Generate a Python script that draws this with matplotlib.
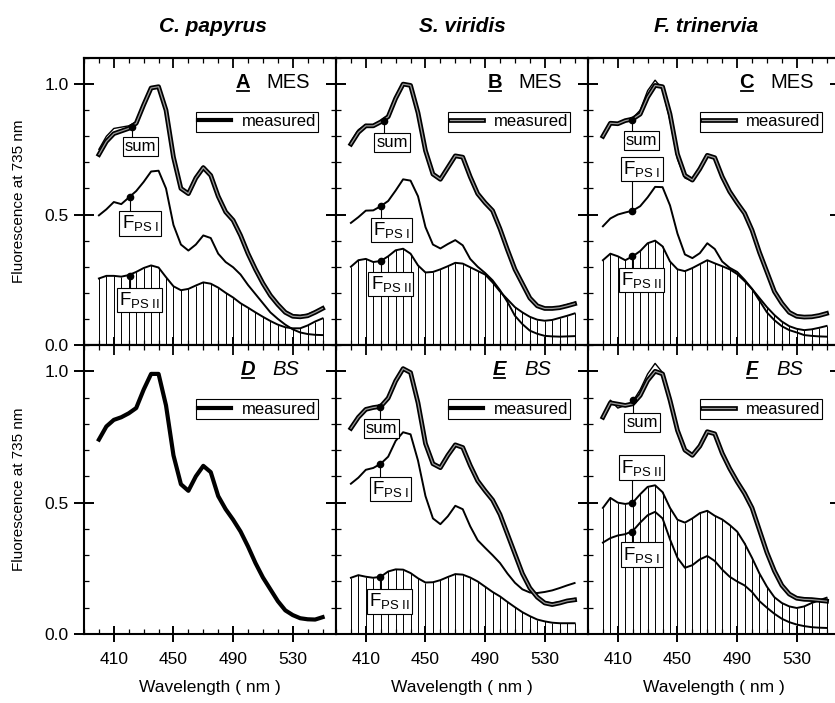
import matplotlib
matplotlib.use("Agg")
import matplotlib.pyplot as plt
import matplotlib.patheffects as pe
from matplotlib.lines import Line2D
from matplotlib.ticker import FixedLocator, MultipleLocator

plt.rcParams['font.family'] = ['Liberation Sans', 'DejaVu Sans']
plt.rcParams['mathtext.fontset'] = 'custom'
plt.rcParams['mathtext.rm'] = 'Liberation Sans'
plt.rcParams['mathtext.it'] = 'Liberation Sans:italic'
plt.rcParams['mathtext.bf'] = 'Liberation Sans:bold'

# wavelength grid (nm), one value every 5 nm
wavelength = list(range(400, 551, 5))

species = ["C. papyrus", "S. viridis", "F. trinervia"]
letters = ["A", "B", "C", "D", "E", "F"]
tissues = ["MES", "MES", "MES", "BS", "BS", "BS"]

# ---- A: C. papyrus, mesophyll
meas_A = [0.73, 0.78, 0.81, 0.82, 0.83, 0.85, 0.92, 0.985, 0.99, 0.90, 0.72, 0.60, 0.58, 0.64, 0.68, 0.65,
          0.57, 0.51, 0.478, 0.42, 0.35, 0.29, 0.236, 0.19, 0.155, 0.125, 0.11, 0.108, 0.112, 0.125, 0.14]
sum_A = [0.75, 0.80, 0.83, 0.835, 0.84, 0.855, 0.925, 0.99, 0.985, 0.89, 0.715, 0.60, 0.585, 0.645, 0.685, 0.655,
         0.575, 0.515, 0.48, 0.425, 0.355, 0.295, 0.24, 0.19, 0.158, 0.13, 0.115, 0.112, 0.118, 0.13, 0.145]
ps1_A = [0.497, 0.52, 0.548, 0.54, 0.565, 0.59, 0.625, 0.665, 0.668, 0.60, 0.46, 0.385, 0.362, 0.385, 0.42, 0.41,
         0.35, 0.318, 0.298, 0.27, 0.23, 0.195, 0.16, 0.125, 0.10, 0.078, 0.06, 0.048, 0.042, 0.039, 0.038]
ps2_A = [0.255, 0.265, 0.265, 0.262, 0.268, 0.28, 0.295, 0.305, 0.297, 0.26, 0.225, 0.21, 0.215, 0.228, 0.24, 0.235,
         0.22, 0.20, 0.182, 0.16, 0.143, 0.125, 0.108, 0.092, 0.078, 0.068, 0.064, 0.064, 0.075, 0.09, 0.102]

# ---- B: S. viridis, mesophyll
meas_B = [0.77, 0.815, 0.84, 0.84, 0.855, 0.875, 0.945, 1.0, 0.995, 0.89, 0.745, 0.655, 0.635, 0.68, 0.725, 0.72,
          0.645, 0.58, 0.545, 0.515, 0.445, 0.365, 0.29, 0.235, 0.18, 0.15, 0.14, 0.14, 0.143, 0.15, 0.158]
sum_B = [0.78, 0.825, 0.845, 0.84, 0.86, 0.88, 0.95, 1.005, 0.995, 0.885, 0.74, 0.65, 0.632, 0.678, 0.722, 0.718,
         0.648, 0.585, 0.55, 0.52, 0.45, 0.37, 0.295, 0.238, 0.183, 0.153, 0.143, 0.143, 0.147, 0.155, 0.163]
ps1_B = [0.468, 0.49, 0.515, 0.516, 0.532, 0.552, 0.592, 0.635, 0.63, 0.57, 0.452, 0.385, 0.37, 0.387, 0.402, 0.382,
         0.33, 0.30, 0.276, 0.248, 0.21, 0.165, 0.112, 0.08, 0.055, 0.043, 0.035, 0.033, 0.032, 0.033, 0.034]
ps2_B = [0.30, 0.325, 0.33, 0.318, 0.322, 0.34, 0.363, 0.369, 0.35, 0.305, 0.278, 0.28, 0.29, 0.302, 0.315, 0.312,
         0.298, 0.284, 0.27, 0.24, 0.205, 0.175, 0.145, 0.125, 0.108, 0.097, 0.093, 0.096, 0.104, 0.112, 0.121]

# ---- C: F. trinervia, mesophyll
meas_C = [0.80, 0.85, 0.848, 0.86, 0.866, 0.885, 0.95, 0.995, 0.99, 0.885, 0.732, 0.65, 0.632, 0.675, 0.727, 0.718,
          0.645, 0.588, 0.545, 0.505, 0.44, 0.355, 0.28, 0.205, 0.16, 0.125, 0.11, 0.107, 0.108, 0.113, 0.121]
sum_C = [0.80, 0.845, 0.85, 0.862, 0.87, 0.90, 0.975, 1.015, 0.98, 0.86, 0.712, 0.64, 0.628, 0.672, 0.725, 0.72,
         0.65, 0.595, 0.55, 0.51, 0.448, 0.365, 0.288, 0.212, 0.165, 0.128, 0.112, 0.108, 0.11, 0.116, 0.124]
ps1_C = [0.455, 0.485, 0.50, 0.508, 0.515, 0.532, 0.566, 0.606, 0.605, 0.535, 0.427, 0.347, 0.333, 0.352, 0.39, 0.368,
         0.32, 0.296, 0.28, 0.25, 0.215, 0.17, 0.125, 0.095, 0.072, 0.057, 0.048, 0.038, 0.035, 0.033, 0.032]
ps2_C = [0.325, 0.35, 0.34, 0.325, 0.34, 0.36, 0.39, 0.40, 0.378, 0.32, 0.29, 0.283, 0.295, 0.31, 0.325, 0.313,
         0.302, 0.29, 0.272, 0.245, 0.215, 0.18, 0.145, 0.115, 0.09, 0.072, 0.062, 0.057, 0.06, 0.066, 0.073]

# ---- D: C. papyrus, bundle sheath (measured only)
meas_D = [0.74, 0.79, 0.815, 0.825, 0.84, 0.86, 0.93, 0.99, 0.99, 0.87, 0.68, 0.57, 0.545, 0.60, 0.64, 0.616,
          0.525, 0.475, 0.435, 0.39, 0.333, 0.27, 0.215, 0.17, 0.125, 0.09, 0.072, 0.06, 0.056, 0.055, 0.064]

# ---- E: S. viridis, bundle sheath
meas_E = [0.783, 0.825, 0.855, 0.862, 0.866, 0.898, 0.963, 1.01, 0.995, 0.88, 0.725, 0.648, 0.633, 0.68, 0.72, 0.71,
          0.642, 0.583, 0.545, 0.51, 0.455, 0.38, 0.305, 0.23, 0.175, 0.14, 0.118, 0.112, 0.118, 0.126, 0.13]
sum_E = [0.79, 0.83, 0.86, 0.858, 0.868, 0.905, 0.97, 1.015, 0.995, 0.875, 0.72, 0.645, 0.63, 0.678, 0.718, 0.712,
         0.645, 0.588, 0.55, 0.515, 0.46, 0.385, 0.31, 0.235, 0.178, 0.14, 0.122, 0.118, 0.122, 0.128, 0.135]
ps1_E = [0.572, 0.595, 0.625, 0.632, 0.648, 0.675, 0.735, 0.768, 0.76, 0.66, 0.525, 0.44, 0.418, 0.448, 0.488, 0.475,
         0.41, 0.357, 0.328, 0.30, 0.27, 0.23, 0.195, 0.17, 0.158, 0.156, 0.16, 0.166, 0.175, 0.185, 0.194]
ps2_E = [0.214, 0.224, 0.218, 0.214, 0.218, 0.238, 0.246, 0.245, 0.232, 0.212, 0.196, 0.197, 0.205, 0.217, 0.228, 0.226,
         0.215, 0.20, 0.18, 0.16, 0.143, 0.122, 0.102, 0.083, 0.068, 0.055, 0.048, 0.043, 0.041, 0.041, 0.041]

# ---- F: F. trinervia, bundle sheath
meas_F = [0.825, 0.88, 0.875, 0.87, 0.876, 0.908, 0.965, 1.0, 0.99, 0.89, 0.775, 0.70, 0.68, 0.715, 0.77, 0.762,
          0.688, 0.63, 0.58, 0.535, 0.48, 0.395, 0.31, 0.24, 0.185, 0.152, 0.136, 0.132, 0.131, 0.128, 0.125]
sum_F = [0.83, 0.89, 0.86, 0.87, 0.885, 0.93, 0.99, 1.03, 0.995, 0.885, 0.765, 0.695, 0.678, 0.712, 0.765, 0.76,
         0.69, 0.632, 0.585, 0.54, 0.485, 0.40, 0.315, 0.245, 0.19, 0.155, 0.14, 0.136, 0.134, 0.131, 0.128]
ps1_F = [0.348, 0.365, 0.375, 0.38, 0.392, 0.424, 0.452, 0.465, 0.44, 0.36, 0.29, 0.252, 0.262, 0.284, 0.297, 0.278,
         0.245, 0.218, 0.20, 0.185, 0.16, 0.125, 0.10, 0.077, 0.058, 0.045, 0.036, 0.03, 0.026, 0.024, 0.023]
ps2_F = [0.48, 0.518, 0.50, 0.495, 0.50, 0.532, 0.56, 0.566, 0.54, 0.48, 0.435, 0.424, 0.44, 0.46, 0.469, 0.45,
         0.436, 0.415, 0.39, 0.345, 0.29, 0.23, 0.18, 0.14, 0.118, 0.105, 0.099, 0.105, 0.118, 0.128, 0.138]

PS1 = r'F$_{\rm PS\ I}$'
PS2 = r'F$_{\rm PS\ II}$'
# label: text, point on curve (nm, value), box centre (nm, value)
labels_A = [("sum", (422, 0.837), (428, 0.76)), (PS1, (420.7, 0.569), (427.8, 0.466)), (PS2, (420.7, 0.265), (427.3, 0.173))]
labels_B = [("sum", (422.3, 0.86), (427.7, 0.777)), (PS1, (420, 0.532), (427.2, 0.44)), (PS2, (420, 0.322), (426.8, 0.234))]
labels_C = [("sum", (419.6, 0.864), (426, 0.782)), (PS1, (419.6, 0.513), (426, 0.675)), (PS2, (419.6, 0.34), (426, 0.25))]
labels_E = [("sum", (419.6, 0.863), (420.5, 0.781)), (PS1, (419.6, 0.646), (426.6, 0.552)), (PS2, (419.2, 0.217), (426, 0.124))]
labels_F = [("sum", (420.5, 0.889), (426.3, 0.806)), (PS2, (419.4, 0.498), (426, 0.633)), (PS1, (419.4, 0.39), (426, 0.302))]

panels = [
    (meas_A, sum_A, ps1_A, ps2_A, labels_A),
    (meas_B, sum_B, ps1_B, ps2_B, labels_B),
    (meas_C, sum_C, ps1_C, ps2_C, labels_C),
    (meas_D, None, None, None, []),
    (meas_E, sum_E, ps1_E, ps2_E, labels_E),
    (meas_F, sum_F, ps1_F, ps2_F, labels_F),
]
hollow_legend = [False, True, True, False, False, True]

W, H = 835, 703
fig = plt.figure(figsize=(W / 100, H / 100), dpi=100)
col_left = [84, 336, 588]
col_w = 252
row_top = [58, 345]
row_bot = [345, 634]

hollow = [pe.Stroke(linewidth=3.4, foreground='k'), pe.Normal()]

axes = []
for i in range(6):
    r, c = divmod(i, 3)
    ax = fig.add_axes([col_left[c] / W, 1 - row_bot[r] / H, col_w / W, (row_bot[r] - row_top[r]) / H])
    axes.append(ax)
    meas, summ, ps1, ps2, labs = panels[i]

    if ps2 is not None:
        ax.vlines(wavelength, 0, ps2, colors='k', linewidth=0.7)
        ax.plot(wavelength, ps2, color='k', lw=1.4)
        ax.plot(wavelength, ps1, color='k', lw=1.4)
        ax.plot(wavelength, summ, color='k', lw=1.0)
        ax.plot(wavelength, meas, color='#9a9a9a', lw=0.9, path_effects=hollow)
    else:
        ax.plot(wavelength, meas, color='k', lw=3.0)

    ax.set_xlim(390, 559)
    ax.set_ylim(0, 1.1)
    ax.xaxis.set_major_locator(FixedLocator([410, 450, 490, 530]))
    ax.xaxis.set_minor_locator(MultipleLocator(10))
    ax.yaxis.set_major_locator(FixedLocator([0.0, 0.5, 1.0]))
    ax.yaxis.set_minor_locator(MultipleLocator(0.1))
    ax.set_yticklabels(['0.0', '0.5', '1.0'])
    ax.tick_params(axis='x', which='major', direction='inout', length=12, width=1.4, labelsize=12.5, pad=7)
    ax.tick_params(axis='x', which='minor', direction='in', length=3.5, width=0.9)
    ax.tick_params(axis='y', which='major', direction='inout', length=14, width=1.4, labelsize=12.5,
                   left=True, right=True, pad=4)
    ax.tick_params(axis='y', which='minor', direction='in', length=3.5, width=0.9, left=True, right=True)
    if c != 0:
        ax.tick_params(axis='y', labelleft=False)
    if r == 0:
        ax.tick_params(axis='x', labelbottom=False)
    else:
        ax.set_xlabel('Wavelength ( nm )', fontsize=12.5, labelpad=9)
    for s in ax.spines.values():
        s.set_linewidth(1.5)

    top = ax.secondary_xaxis('top')
    top.xaxis.set_major_locator(FixedLocator([410, 450, 490, 530]))
    top.xaxis.set_minor_locator(MultipleLocator(10))
    top.tick_params(which='major', direction='in', length=7, width=1.3, labeltop=False)
    top.tick_params(which='minor', direction='in', length=3.5, width=0.9)
    top.spines['top'].set_linewidth(1.5)

    # panel tag
    style = 'normal' if r == 0 else 'italic'
    lx = 0.63 if r == 0 else 0.65
    ax.text(lx, 0.915, letters[i], transform=ax.transAxes, ha='center', va='center',
            fontsize=14.5, fontweight='bold', fontstyle=style)
    ax.text(0.81 if r == 0 else 0.80, 0.915, tissues[i], transform=ax.transAxes, ha='center', va='center',
            fontsize=14.5, fontstyle=style)

    # legend
    if hollow_legend[i]:
        h = Line2D([], [], color='#9a9a9a', lw=0.9, path_effects=hollow)
    else:
        h = Line2D([], [], color='k', lw=3.0)
    leg = ax.legend([h], ['measured'], loc='upper right', bbox_to_anchor=(0.93, 0.813),
                    fontsize=12, frameon=True, fancybox=False, edgecolor='k', framealpha=1,
                    handlelength=2.0, borderpad=0.15, handletextpad=0.6, borderaxespad=0)
    leg.get_frame().set_linewidth(0.8)

    # curve labels
    for text, (dx, dy), (tx, ty) in labs:
        t = ax.text(tx, ty, text, ha='center', va='center', fontsize=12 if text == 'sum' else 13.5,
                    bbox=dict(boxstyle='square,pad=0.12', fc='white', ec='k', lw=0.8), zorder=4)
        ax.plot([dx], [dy], 'o', color='k', ms=4.5, zorder=6)
        t._dot = (dx, dy)

title_x = [213, 462, 706]
for j, name in enumerate(species):
    fig.text(title_x[j] / W, 1 - 26 / H, name, ha='center', va='center', fontsize=15,
             fontweight='bold', fontstyle='italic')

for r in range(2):
    cy = 1 - (row_top[r] + row_bot[r]) / 2 / H
    fig.text(19 / W, cy, 'Fluorescence at 735 nm', rotation=90, ha='center', va='center', fontsize=11)

# connectors from dots to label boxes, underlines under panel letters
fig.canvas.draw()
renderer = fig.canvas.get_renderer()
inv_fig = fig.transFigure.inverted()
for i, ax in enumerate(axes):
    inv = ax.transData.inverted()
    for t in ax.texts:
        if hasattr(t, '_dot'):
            dx, dy = t._dot
            bb = t.get_bbox_patch().get_window_extent(renderer)
            (x0, y0), (x1, y1) = inv.transform([(bb.x0, bb.y0), (bb.x1, bb.y1)])
            edge = y1 if dy > y1 else y0
            ax.plot([dx, dx], [dy, edge], color='k', lw=0.8, zorder=3)
        elif t.get_text() == letters[i]:
            bb = t.get_window_extent(renderer)
            (ux0, uy), (ux1, _) = inv_fig.transform([(bb.x0 + 1, bb.y0 + 1), (bb.x1 - 1, bb.y0)])
            fig.add_artist(Line2D([ux0, ux1], [uy, uy], transform=fig.transFigure, color='k', lw=1.3))

fig.savefig('out.png', dpi=100)
